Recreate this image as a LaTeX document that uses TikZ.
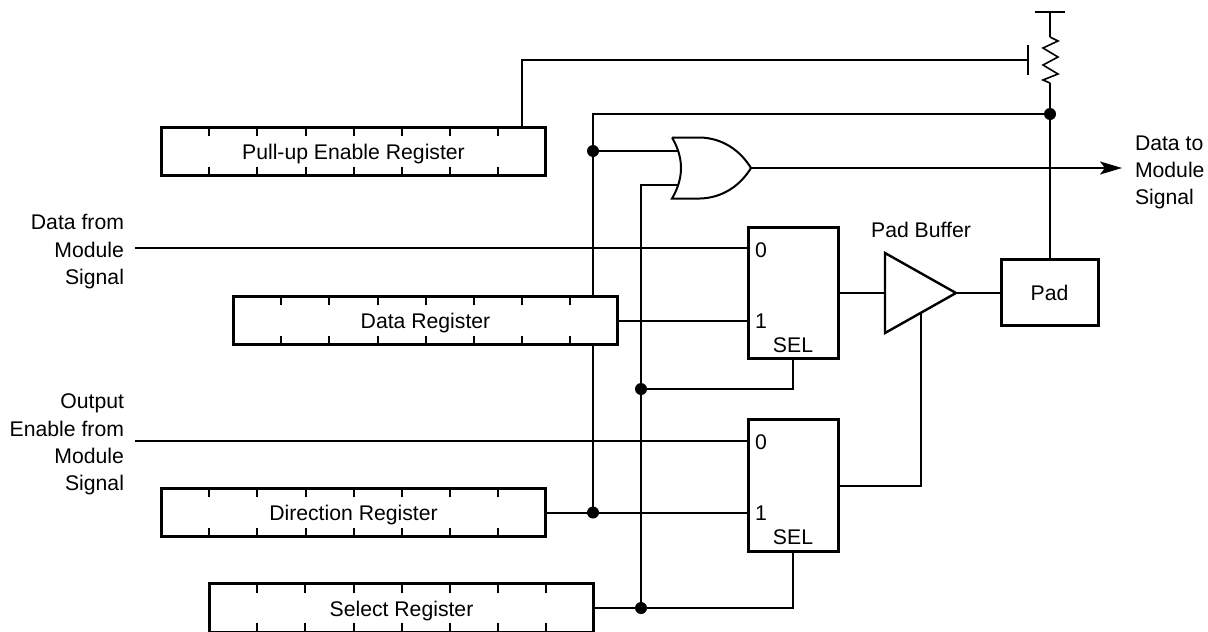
\documentclass[tikz,border=0pt]{standalone}
\usepackage{fontspec}
\setmainfont{Liberation Sans}
\usetikzlibrary{backgrounds,arrows.meta}
\tikzset{
  wire/.style={line width=2pt,line cap=butt},
  heavy/.style={draw=black,line width=3pt,fill=white,inner sep=0pt,outer sep=0pt},
  regbox/.style={heavy,minimum width=384.5pt,minimum height=48.5pt},
  muxbox/.style={heavy,minimum width=90pt,minimum height=131.5pt},
  padbox/.style={heavy,minimum width=97pt,minimum height=66pt},
  dot/.style={circle,fill=black,draw=none,minimum size=12pt,inner sep=0pt,outer sep=0pt},
  lbl/.style={inner sep=0pt,outer sep=0pt,anchor=base,font=\fontsize{21.2pt}{25pt}\selectfont},
  tick/.style={line width=2pt}
}
\newcommand{\regticks}[1]{%
  \foreach \k in {1,...,7}{
    \draw[tick] ([xshift=48.1*\k pt]#1.north west) -- ++(0,-9pt);
    \draw[tick] ([xshift=48.1*\k pt]#1.south west) -- ++(0,9pt);
  }}
\begin{document}
\begin{tikzpicture}[x=1pt,y=-1pt]
\useasboundingbox (0,0) rectangle (1208,632);
% registers
\node[regbox] (pue) at (353.5,151.5) {}; \regticks{pue}
\node[regbox] (dat) at (425.5,320.5) {}; \regticks{dat}
\node[regbox] (dir) at (353.5,512.5) {}; \regticks{dir}
\node[regbox] (sel) at (401.5,608) {}; \regticks{sel}
\node[lbl] (puetxt) at (353.5,159) {Pull-up Enable Register};
\node[lbl] (dattxt) at (425.5,328) {Data Register};
\node[lbl] (dirtxt) at (353.5,520) {Direction Register};
\node[lbl] (seltxt) at (401.5,616.5) {Select Register};
% muxes and pad
\node[muxbox] (muxa) at (793,293) {};
\node[muxbox] (muxb) at (793,485.5) {};
\node[padbox] (pad) at (1049.5,292) {};
\node[lbl] (pa0) at (761,257) {0};
\node[lbl] (pa1) at (761,328) {1};
\node[lbl] (pas) at (793,352) {SEL};
\node[lbl] (pb0) at (761,449.5) {0};
\node[lbl] (pb1) at (761,520.5) {1};
\node[lbl] (pbs) at (793,544.5) {SEL};
\node[lbl] (padtxt) at (1049.5,300) {Pad};
\node[lbl] (buftxt) at (921,237) {Pad Buffer};
% signal labels
\node[lbl,anchor=base east] (l1) at (124,229) {Data from};
\node[lbl,anchor=base east] (l2) at (124,257) {Module};
\node[lbl,anchor=base east] (l3) at (124,284) {Signal};
\node[lbl,anchor=base east] (l4) at (124,408) {Output};
\node[lbl,anchor=base east] (l5) at (124,436) {Enable from};
\node[lbl,anchor=base east] (l6) at (124,463) {Module};
\node[lbl,anchor=base east] (l7) at (124,490) {Signal};
\node[lbl,anchor=base west] (r1) at (1135,150) {Data to};
\node[lbl,anchor=base west] (r2) at (1135,177) {Module};
\node[lbl,anchor=base west] (r3) at (1135,204) {Signal};
% OR gate
\draw[fill=white,line width=2pt,line join=miter] (672,137.5) -- (700,137.5)
  .. controls (722,138) and (740,150) .. (751,168)
  .. controls (740,186) and (722,198) .. (700,198.5) -- (672,198.5)
  .. controls (684,178) and (684,158) .. (672,137.5);
\coordinate (orA) at (678,151);
\coordinate (orB) at (678,184.5);
\coordinate (orY) at (751,168);
% buffer
\draw[fill=white,line width=2.4pt,line join=miter] (885,253) -- (956,293) -- (885,333) -- cycle;
\coordinate (bufI) at (885,293);
\coordinate (bufO) at (956,293);
\coordinate (bufE) at (921,313);
% junctions
\node[dot] (j1) at (1050,114) {};
\node[dot] (j2) at (593,151) {};
\node[dot] (j3) at (641,389) {};
\node[dot] (j4) at (593,512.5) {};
\node[dot] (j5) at (641,608) {};
% free ends
\coordinate (dm) at (135,248);
\coordinate (oe) at (135,441);
\coordinate (out) at (1122,168);
\coordinate (vt) at (1050,12);
\coordinate (rt) at (1050,37);
\coordinate (rb) at (1050,83);
\begin{scope}[on background layer]
\draw[wire] (dm) -- (dm -| muxa.west);
\draw[wire] (oe) -- (oe -| muxb.west);
\draw[wire] (522,127) -- (522,60) -- (1028,60);
\draw[wire] (1028,45) -- (1028,74.5);
\draw[wire] (1035,12) -- (1065,12);
\draw[wire] (vt) -- (rt);
\draw[line width=1.6pt,line join=miter] (rt) -- (1058,41) -- (1043,48) -- (1058,57) -- (1043,65) -- (1058,74) -- (1043,80) -- (rb);
\draw[wire] (rb) -- (j1) -- (pad.north -| j1);
\draw[wire] (j1) -- (j1 -| j2) -- (j2) -- (j4);
\draw[wire] (j2) -- (orA);
\draw[wire] (orB) -- (orB -| j3) -- (j3) -- (j5);
\draw[wire,-{Stealth[length=22pt,width=13pt,inset=5pt]}] (orY) -- (out);
\draw[wire] (dat.east) -- (dat.east -| muxa.west);
\draw[wire] (dir.east) -- (dir.east -| muxb.west);
\draw[wire] (sel.east) -- (j5) -- (j5 -| muxb.south) -- (muxb.south);
\draw[wire] (j3) -- (j3 -| muxa.south) -- (muxa.south);
\draw[wire] (muxa.east |- bufI) -- (bufI);
\draw[wire] (bufO) -- (pad.west |- bufO);
\draw[wire] (muxb.east |- 0,486) -- (921,486) -- (bufE);
\end{scope}
\end{tikzpicture}
\end{document}
